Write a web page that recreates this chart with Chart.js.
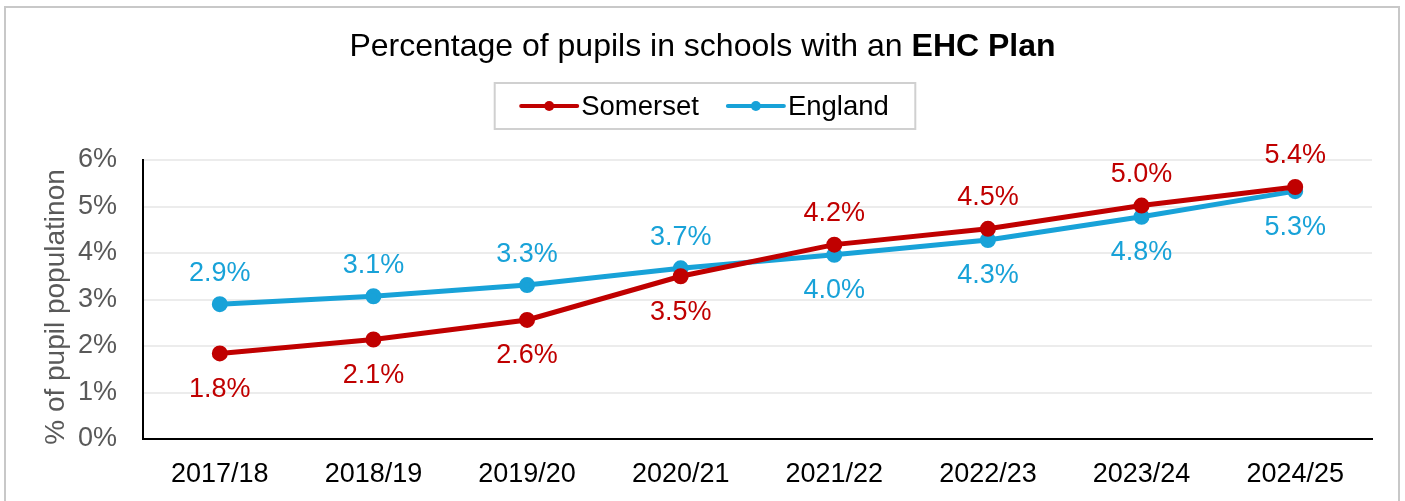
<!DOCTYPE html>
<html><head><meta charset="utf-8">
<script src="https://cdn.jsdelivr.net/npm/chart.js@4.4.0/dist/chart.umd.min.js"></script>
<style>
html,body{margin:0;padding:0;background:#fff;}
#wrap{position:relative;width:1405px;height:501px;overflow:hidden;background:#fff;}
#frame{position:absolute;left:4px;top:6px;width:1396px;height:540px;border:2px solid #c8c8c8;box-sizing:border-box;pointer-events:none;}
canvas{position:absolute;left:0;top:0;}
</style></head><body>
<div id="wrap"><canvas id="c" width="1405" height="501"></canvas><div id="frame"></div></div>
<script>
const categories = ['2017/18','2018/19','2019/20','2020/21','2021/22','2022/23','2023/24','2024/25'];
const somerset = [1.84, 2.14, 2.56, 3.50, 4.18, 4.52, 5.02, 5.42];
const england  = [2.90, 3.07, 3.31, 3.67, 3.96, 4.28, 4.78, 5.33];
const seriesNames = ['Somerset', 'England'];
const yMin = 0, yMax = 6, yStep = 1;
const titleNormal = 'Percentage of pupils in schools with an ';
const titleBold = 'EHC Plan';
const yTitle = '% of pupil populatinon';

const RED = '#C00000';
const BLUE = '#18A2D8';
const FONT = '"Liberation Sans", Arial, sans-serif';
const FS = 27;

const titlePlugin = {
  id: 'mixedTitle',
  afterDraw(chart) {
    const ctx = chart.ctx;
    ctx.save();
    ctx.textBaseline = 'alphabetic';
    ctx.fillStyle = '#000';
    const tf = 32;
    ctx.font = `${tf}px ${FONT}`;
    const w1 = ctx.measureText(titleNormal).width;
    ctx.font = `bold ${tf}px ${FONT}`;
    const w2 = ctx.measureText(titleBold).width;
    const x0 = chart.width / 2 - (w1 + w2) / 2;
    ctx.font = `${tf}px ${FONT}`;
    ctx.textAlign = 'left';
    ctx.fillText(titleNormal, x0, 56);
    ctx.font = `bold ${tf}px ${FONT}`;
    ctx.fillText(titleBold, x0 + w1, 56);
    // y axis title
    ctx.font = `28px ${FONT}`;
    ctx.fillStyle = '#595959';
    ctx.textAlign = 'center';
    ctx.translate(63.5, 307);
    ctx.rotate(-Math.PI / 2);
    ctx.fillText(yTitle, 0, 0);
    ctx.restore();
  }
};

const legendPlugin = {
  id: 'boxLegend',
  afterDraw(chart) {
    const ctx = chart.ctx;
    ctx.save();
    ctx.font = `27.5px ${FONT}`;
    const lineLen = 56, gapText = 4, gapItem = 29;
    const items = chart.data.datasets.map(ds => ({label: ds.label, color: ds.borderColor, w: ctx.measureText(ds.label).width}));
    let total = 0;
    items.forEach((it, i) => { total += lineLen + gapText + it.w + (i ? gapItem : 0); });
    const boxW = total + 53, boxH = 46;
    const cx = chart.width / 2 + 2.5;
    const bx = cx - boxW / 2, by = 83;
    ctx.strokeStyle = '#d0d0d0';
    ctx.lineWidth = 2;
    ctx.strokeRect(bx, by, boxW, boxH);
    let x = cx - total / 2;
    const y = by + boxH / 2;
    ctx.textBaseline = 'middle';
    ctx.textAlign = 'left';
    items.forEach((it, i) => {
      if (i) x += gapItem;
      ctx.strokeStyle = it.color;
      ctx.lineWidth = 4;
      ctx.lineCap = 'round';
      ctx.beginPath(); ctx.moveTo(x, y); ctx.lineTo(x + lineLen, y); ctx.stroke();
      ctx.fillStyle = it.color;
      ctx.beginPath(); ctx.arc(x + lineLen / 2, y, 5, 0, Math.PI * 2); ctx.fill();
      x += lineLen + gapText;
      ctx.fillStyle = '#000';
      ctx.fillText(it.label, x, y + 1);
      x += it.w;
    });
    ctx.restore();
  }
};

const labelPlugin = {
  id: 'pointLabels',
  afterDatasetsDraw(chart) {
    const ctx = chart.ctx;
    const ds = chart.data.datasets;
    ctx.save();
    ctx.font = `${FS}px ${FONT}`;
    ctx.textAlign = 'center';
    ctx.textBaseline = 'middle';
    ds.forEach((d, i) => {
      const other = ds[1 - i].data;
      const meta = chart.getDatasetMeta(i);
      meta.data.forEach((pt, j) => {
        const v = d.data[j];
        const above = v > other[j];
        ctx.fillStyle = d.borderColor;
        ctx.fillText(v.toFixed(1) + '%', pt.x, pt.y + (above ? -31 : 36));
      });
    });
    ctx.restore();
  }
};

new Chart(document.getElementById('c'), {
  type: 'line',
  data: {
    labels: categories,
    datasets: [
      {label: seriesNames[0], data: somerset, borderColor: RED, backgroundColor: RED, pointBackgroundColor: RED, pointBorderColor: RED, borderWidth: 5, pointRadius: 5.5, tension: 0},
      {label: seriesNames[1], data: england, borderColor: BLUE, backgroundColor: BLUE, pointBackgroundColor: BLUE, pointBorderColor: BLUE, borderWidth: 5, pointRadius: 5.5, tension: 0}
    ]
  },
  options: {
    responsive: false,
    animation: false,
    devicePixelRatio: 1,
    layout: {padding: {top: 160, left: 0, right: 33, bottom: 11}},
    plugins: {legend: {display: false}, title: {display: false}, tooltip: {enabled: false}},
    scales: {
      x: {
        offset: true,
        grid: {display: false, drawTicks: false},
        border: {display: true, color: '#000', width: 2},
        ticks: {color: '#000', font: {family: FONT, size: FS}, padding: 19, maxRotation: 0},
        afterFit(s) { s.height = 51; }
      },
      y: {
        min: yMin, max: yMax,
        grid: {color: '#ececec', lineWidth: 2, drawTicks: false},
        border: {display: true, color: '#000', width: 2},
        ticks: {stepSize: yStep, color: '#595959', font: {family: FONT, size: FS}, padding: 26, callback: v => v + '%'},
        title: {display: false},
        afterFit(s) { s.width = 143; }
      }
    }
  },
  plugins: [titlePlugin, legendPlugin, labelPlugin]
});
</script>
</body></html>
